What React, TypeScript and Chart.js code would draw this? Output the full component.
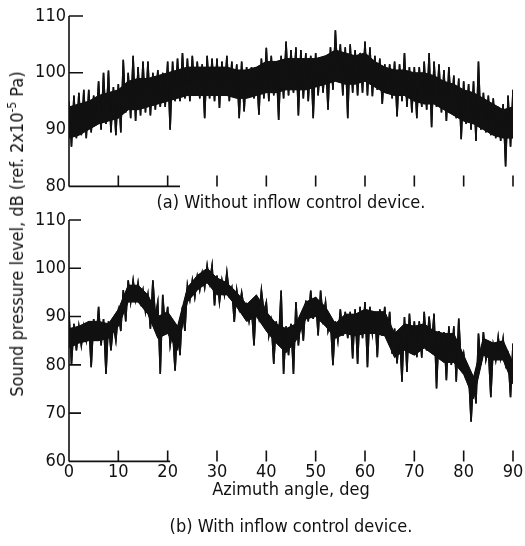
import React, { useEffect, useRef } from "react";
import { Chart, registerables } from "chart.js";

Chart.register(...registerables);

// ---------- data ----------
// Azimuth angle, deg (one entry per degree)
const degrees = [
  0, 1, 2, 3, 4, 5, 6, 7, 8, 9, 10, 11, 12, 13, 14, 15, 16, 17, 18, 19,
  20, 21, 22, 23, 24, 25, 26, 27, 28, 29, 30, 31, 32, 33, 34, 35, 36, 37, 38, 39,
  40, 41, 42, 43, 44, 45, 46, 47, 48, 49, 50, 51, 52, 53, 54, 55, 56, 57, 58, 59,
  60, 61, 62, 63, 64, 65, 66, 67, 68, 69, 70, 71, 72, 73, 74, 75, 76, 77, 78, 79,
  80, 81, 82, 83, 84, 85, 86, 87, 88, 89, 90,
];
// Azimuth angle, deg, every 2 degrees (for the dense core of the trace)
const coreDegrees = [
  0, 2, 4, 6, 8, 10, 12, 14, 16, 18, 20, 22, 24, 26, 28, 30, 32, 34, 36, 38,
  40, 42, 44, 46, 48, 50, 52, 54, 56, 58, 60, 62, 64, 66, 68, 70, 72, 74, 76, 78,
  80, 82, 84, 86, 88, 90,
];

// (a) Without inflow control device: local peaks at each degree, dB
const peaksWithout = [
  95, 96, 96.5, 97, 97, 96, 98.5, 100, 100.4, 97.5,
  98, 102.3, 100, 103, 101, 102, 102, 100, 100.5, 100,
  102, 102, 102.5, 103.5, 102.5, 103, 102, 101.5, 103, 102.5,
  102.5, 102, 103, 102, 101.5, 102, 101, 101, 100.5, 102.5,
  104.4, 103, 102, 103, 105.5, 104, 104.5, 104, 103.5, 103,
  103.5, 102.5, 103, 104.5, 107.5, 105, 104.5, 105, 104, 103.5,
  105.5, 104.5, 103, 102.5, 101.5, 101.5, 102, 101.5, 103.5, 101,
  101, 101, 102, 103.5, 102, 101.5, 100.5, 101, 99.5, 99,
  98.5, 98, 98.5, 102, 96.5, 96, 95.5, 94, 94.5, 96, 97,
];
// local troughs half a degree after each degree, dB
const troughsWithout = [
  87, 88.5, 89, 88.5, 89.5, 91, 90, 91, 89.5, 89,
  89.5, 93, 92, 91.5, 92.5, 93, 92.5, 93.5, 94, 94,
  90, 95, 95, 95.5, 95, 96, 95.5, 92, 95.5, 95,
  93.8, 96, 95, 96, 92, 93.2, 96, 95.5, 92.6, 95.5,
  95, 96, 91.7, 95.5, 96, 96.5, 92.5, 95.5, 95, 92,
  96, 96.5, 93.5, 97, 99, 96, 92, 96.5, 96, 96.5,
  96, 95.9, 97, 94.5, 96.5, 95.5, 92.3, 95, 94, 93,
  92, 94, 93.5, 90.4, 94, 93, 91.5, 93, 92, 88.3,
  91, 90, 88, 90, 89.5, 89, 88.5, 88, 83.5, 87,
];
// dense core of the trace, every 2 degrees, dB
const coreHighWithout = [
  94, 94.5, 95, 96, 96.5, 97, 98.5, 99, 99, 99.5,
  100, 100.5, 101, 101, 101, 101, 101, 100.5, 100.5, 101,
  102, 102, 102.5, 102.5, 102.5, 102.5, 103, 104, 103.5, 103,
  103.5, 102, 101, 100.5, 100.5, 100, 100, 99.5, 98.5, 98,
  97, 96.5, 95.5, 94.5, 93.5, 94,
];
const coreLowWithout = [
  88.5, 89, 90, 91, 91.5, 92, 93.5, 93.5, 94, 94.5,
  95, 95.5, 96, 96, 96, 96, 96, 95.5, 95.5, 96,
  96.5, 96.5, 97, 97, 97, 97.5, 98, 98.5, 98, 98,
  98.5, 97.5, 96.5, 96, 96, 95, 94.5, 94.5, 93.5, 92.5,
  91.5, 91, 90, 89, 88.5, 88.5,
];

// (b) With inflow control device: local peaks at each degree, dB
const peaksWith = [
  91, 88.5, 88, 88, 89, 89.5, 92, 89.5, 89, 88.5,
  91, 95.5, 97.5, 97.5, 97, 95.5, 94.5, 97.5, 93, 94.5,
  92, 87.5, 88, 92, 96.5, 97.5, 98.3, 99, 100.6, 100.6,
  98.5, 97.5, 99.2, 96, 95.5, 95, 92.5, 92, 94, 95.5,
  93, 89, 89, 95.4, 88, 88.5, 93, 90, 93.3, 95.4,
  94, 95.4, 93, 89.3, 89, 91.5, 91, 91, 91.5, 92,
  93, 92, 91, 91.5, 92, 91, 87.5, 87, 89.9, 90.6,
  89, 89, 91, 90, 90.6, 87, 86.8, 88, 88, 89.6,
  82.4, 78.5, 77.5, 86.5, 86.8, 83.6, 84, 85.8, 85.4, 82, 84.4,
];
const troughsWith = [
  80, 83, 84, 85, 79.5, 85, 84, 78.1, 83, 85,
  87, 89, 93, 93.5, 93, 91, 87.5, 90, 78.1, 87.5,
  84, 78.8, 82, 87, 93.5, 94, 95.5, 96, 97, 92.3,
  93, 94.5, 94.5, 88.9, 91.7, 91.5, 89, 84, 90, 91,
  86, 80.2, 85, 78.1, 82, 78.1, 84, 85, 89, 89.5,
  86.1, 89.5, 87, 79.9, 85, 86, 85.5, 81.3, 80.2, 85.5,
  79.5, 86.5, 81.6, 86, 85.8, 82.3, 80.3, 76.5, 78.5, 83.4,
  81.6, 81.5, 83, 84, 75.1, 81, 76.8, 80, 76.5, 80,
  78.5, 68.2, 72, 80, 81, 73.3, 81, 81.5, 80, 73.3,
];
const coreHighWith = [
  87.5, 88, 89, 89, 88.5, 91.5, 96.5, 96.5, 94.5, 90,
  91, 88, 96, 98.5, 100, 98, 97, 95, 92.5, 94.5,
  91, 88.5, 87.5, 88.5, 93, 94, 92, 88.5, 90.5, 90.5,
  91.5, 91, 91, 86.5, 88.5, 88, 88.5, 87, 86.5, 86.5,
  82, 77.5, 85.5, 84.5, 85, 80.5,
];
const coreLowWith = [
  83.5, 84.5, 85, 85, 85.5, 88, 93, 93, 90.5, 85.5,
  86.5, 83, 93, 95.5, 97, 94.5, 94.5, 92, 89, 90,
  87, 84.5, 82.5, 85, 89.5, 90, 88, 85.5, 86.5, 86,
  86.5, 86.5, 86, 81.5, 83, 82, 83.5, 82, 80.5, 80.5,
  78, 73, 82, 81, 81, 76,
];

const xTicks = [0, 10, 20, 30, 40, 50, 60, 70, 80, 90];
const yTicksTop = [80, 90, 100, 110];
const yTicksBottom = [60, 70, 80, 90, 100, 110];

const captionA = "(a) Without inflow control device.";
const captionB = "(b) With inflow control device.";
const xTitle = "Azimuth angle, deg";

// ---------- helpers ----------
const FONT = '"Liberation Sans Narrow", "Arial Narrow", "DejaVu Sans Condensed", "Liberation Sans", sans-serif';
const INK = "#111111";

const frameTicks = {
  id: "frameTicks",
  afterDatasetsDraw(chart: any, _args: any, opts: any) {
    const { ctx } = chart;
    const xs = chart.scales.x;
    const ys = chart.scales.y;
    const left = xs.getPixelForValue(xs.min);
    const bottom = ys.getPixelForValue(ys.min);
    ctx.save();
    ctx.strokeStyle = INK;
    ctx.lineWidth = 1.6;
    ctx.beginPath();
    ctx.moveTo(left, ys.getPixelForValue(ys.max));
    ctx.lineTo(left, bottom);
    ctx.moveTo(left, bottom);
    ctx.lineTo(xs.getPixelForValue(opts.axisEnd), bottom);
    ys.ticks.forEach((t: any) => {
      const p = ys.getPixelForValue(t.value);
      ctx.moveTo(left, p);
      ctx.lineTo(left + opts.yTickLen, p);
    });
    xs.ticks.forEach((t: any) => {
      const p = xs.getPixelForValue(t.value);
      ctx.moveTo(p, bottom);
      ctx.lineTo(p, bottom - opts.xTickLen);
    });
    ctx.stroke();
    ctx.restore();
  },
};

function makeConfig(kind: "a" | "b"): any {
  const top = kind === "a";
  const peaks = top ? peaksWithout : peaksWith;
  const troughs = top ? troughsWithout : troughsWith;
  const coreHigh = top ? coreHighWithout : coreHighWith;
  const coreLow = top ? coreLowWithout : coreLowWith;
  const yTicks = top ? yTicksTop : yTicksBottom;

  // trace: peak at each degree, trough half a degree later
  const trace: { x: number; y: number }[] = [];
  degrees.forEach((d, i) => {
    trace.push({ x: d, y: peaks[i] });
    if (i < troughs.length) trace.push({ x: d + 0.5, y: troughs[i] });
  });
  const lowPts = coreLow.map((v, i) => ({ x: coreDegrees[i], y: v }));
  const highPts = coreHigh.map((v, i) => ({ x: coreDegrees[i], y: v }));

  const common = { pointRadius: 0, tension: 0, borderColor: INK, backgroundColor: INK };
  return {
    type: "line",
    data: {
      datasets: [
        { ...common, data: lowPts, borderWidth: 1, fill: false, order: 4 },
        { ...common, data: highPts, borderWidth: 1, fill: 0, order: 3 },
        // spikes above the core: area between the trace and the core top
        { ...common, data: trace, borderWidth: 1.5, fill: 1, order: 2 },
        // spikes below the core: area between the trace and the core bottom
        { ...common, data: trace, borderWidth: 1.5, fill: 0, order: 1 },
      ],
    },
    options: {
      animation: false,
      responsive: false,
      events: [],
      layout: { padding: { left: 30, right: 12, top: top ? 16 : 20, bottom: 0 } },
      plugins: {
        legend: { display: false },
        tooltip: { enabled: false },
        filler: { propagate: false },
        title: {
          display: true,
          position: "bottom",
          fullSize: false,
          text: top ? captionA : captionB,
          color: INK,
          font: { family: FONT, size: 18, weight: "normal", lineHeight: 1.2 },
          padding: top ? { top: 4, bottom: 2 } : { top: 6, bottom: 8 },
        },
        frameTicks: { axisEnd: top ? 22.5 : 20.5, yTickLen: top ? 14 : 12, xTickLen: 11 },
      },
      scales: {
        x: {
          type: "linear",
          min: 0,
          max: 90,
          afterBuildTicks: (s: any) => {
            s.ticks = xTicks.map((v) => ({ value: v }));
          },
          ticks: {
            display: !top,
            padding: 0,
            color: INK,
            font: { family: FONT, size: 18 },
          },
          grid: { display: false, drawTicks: false },
          border: { display: false },
          title: top
            ? { display: false }
            : {
                display: true,
                text: xTitle,
                color: INK,
                font: { family: FONT, size: 18, lineHeight: 1.2 },
                padding: { top: 0, bottom: 9 },
              },
          afterFit: (s: any) => {
            s.height = top ? 2 : 49;
          },
        },
        y: {
          type: "linear",
          min: yTicks[0],
          max: yTicks[yTicks.length - 1],
          afterBuildTicks: (s: any) => {
            s.ticks = yTicks.map((v) => ({ value: v }));
          },
          ticks: {
            padding: 3,
            color: INK,
            font: { family: FONT, size: 18 },
          },
          grid: { display: false, drawTicks: false },
          border: { display: false },
          afterFit: (s: any) => {
            s.width = 39;
          },
        },
      },
    },
    plugins: [frameTicks],
  };
}

function Panel({ kind, top, height }: { kind: "a" | "b"; top: number; height: number }) {
  const ref = useRef<HTMLCanvasElement | null>(null);
  useEffect(() => {
    if (!ref.current) return;
    const chart = new Chart(ref.current, makeConfig(kind));
    return () => chart.destroy();
  }, [kind]);
  return (
    <canvas
      ref={ref}
      width={525}
      height={height}
      style={{ position: "absolute", left: 0, top, width: 525, height }}
    />
  );
}

export default function App() {
  return (
    <div
      style={{
        position: "fixed",
        left: 0,
        top: 0,
        width: 525,
        height: 546,
        background: "#fff",
        overflow: "hidden",
      }}
    >
      <Panel kind="a" top={0} height={216} />
      <Panel kind="b" top={200} height={346} />
      <div
        style={{
          position: "absolute",
          left: 18,
          top: 234,
          transform: "translate(-50%, -50%) rotate(-90deg)",
          whiteSpace: "nowrap",
          fontFamily: FONT,
          fontSize: 18,
          color: INK,
          lineHeight: "20px",
        }}
      >
        Sound pressure level, dB (ref. 2x10
        <span style={{ fontSize: 12, position: "relative", top: -7 }}>-5</span> Pa)
      </div>
    </div>
  );
}
